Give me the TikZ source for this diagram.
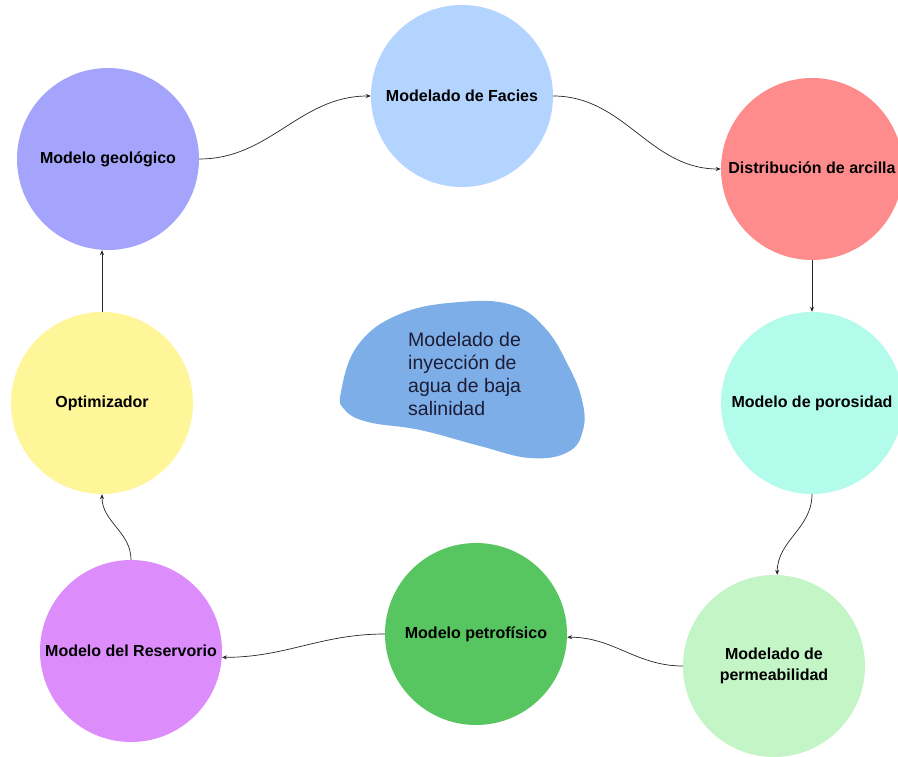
\documentclass[tikz,border=0pt]{standalone}
\usepackage{fontspec}
\setmainfont{Liberation Sans}
\usetikzlibrary{arrows.meta}
\definecolor{cgeo}{HTML}{A4A4FC}
\definecolor{cfac}{HTML}{B3D4FF}
\definecolor{carc}{HTML}{FF8C8C}
\definecolor{cpor}{HTML}{B3FBEA}
\definecolor{cper}{HTML}{C3F5C6}
\definecolor{cpet}{HTML}{57C560}
\definecolor{cres}{HTML}{DD8CFC}
\definecolor{copt}{HTML}{FFF69A}
\definecolor{cblob}{HTML}{7EAEE8}
\definecolor{ctxt}{HTML}{1C1C34}
\tikzset{
  bubble/.style={circle, minimum size=182pt, inner sep=0pt, draw=none, align=center,
    font=\bfseries\fontsize{16}{21}\selectfont, text=black},
  conn/.style={line width=0.7pt, draw=black!85, -{Stealth[length=5pt,width=4pt]}}
}
\begin{document}
\begin{tikzpicture}[x=1pt,y=-1pt]
\useasboundingbox (0,0) rectangle (898,757);
\clip (0,0) rectangle (898,757);
\fill[white] (0,0) rectangle (898,757);
% blob
\fill[cblob] plot[smooth cycle, tension=0.7] coordinates {(341,392) (358,345) (400,314) (460,302) (512,305) (545,328) (568,365) (582,400) (583,430) (568,452) (530,458) (480,446) (420,430) (368,422) (345,410)};
\node[anchor=west, align=left, inner sep=0pt, text=ctxt, font=\fontsize{19.5}{23}\selectfont] (blob) at (408,374) {Modelado de\\inyección de\\agua de baja\\salinidad};
% bubbles
\node[bubble, fill=cgeo] (geo) at (108,159) {Modelo geológico};
\node[bubble, fill=cfac] (fac) at (462,96) {Modelado de Facies};
\node[bubble, fill=carc] (arc) at (812,169) {};
\node[anchor=center, font=\bfseries\fontsize{16}{21}\selectfont] (arct) at (812,168) {Distribución de arcilla};
\node[bubble, fill=cpor] (por) at (812,403) {Modelo de porosidad};
\node[bubble, fill=cper] (per) at (774,666) {Modelado de\\permeabilidad};
\node[bubble, fill=cpet] (pet) at (476,634) {Modelo petrofísico};
\node[bubble, fill=cres] (res) at (131,651) {Modelo del Reservorio};
\node[bubble, fill=copt] (opt) at (102,403) {Optimizador};
% connectors
\draw[conn] (geo.east) to[out=0,in=180] (fac.west);
\draw[conn] (fac.east) to[out=0,in=180] (arc.west);
\draw[conn] (arc.south) -- (por.north);
\draw[conn] (por.south) to[out=-90,in=90] (per.88);
\draw[conn] (per.west) to[out=180,in=0] (pet.-2);
\draw[conn] (pet.west) to[out=180,in=0] (res.-4);
\draw[conn] (res.north) to[out=90,in=-90] (opt.south);
\draw[conn] (opt.north) -- (opt.north |- geo.south);
\end{tikzpicture}
\end{document}
